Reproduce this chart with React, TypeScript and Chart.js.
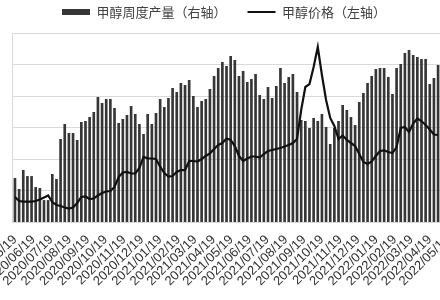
import { useEffect, useRef } from 'react';
import { Chart, registerables } from 'chart.js';

Chart.register(...registerables);

// ---- data ----
const startDate = '2020/05/19'; // first weekly observation
const weekDays = 7;

const productionLabel = '甲醇周度产量（右轴）';
const priceLabel = '甲醇价格（左轴）';

const tickLabels = [
  '2020/05/19', '2020/06/19', '2020/07/19', '2020/08/19', '2020/09/19',
  '2020/10/19', '2020/11/19', '2020/12/19', '2021/01/19', '2021/02/19',
  '2021/03/19', '2021/04/19', '2021/05/19', '2021/06/19', '2021/07/19',
  '2021/08/19', '2021/09/19', '2021/10/19', '2021/11/19', '2021/12/19',
  '2022/01/19', '2022/02/19', '2022/03/19', '2022/04/19', '2022/05/19',
];

// weekly methanol output (right axis)
const production = [
  123.3, 117.5, 127.5, 124.3, 124.3, 118.5, 118.0, 111.6, 111.6, 125.4,
  122.8, 143.9, 151.9, 147.1, 147.1, 143.4, 152.9, 153.4, 155.6, 158.2,
  166.1, 163.0, 165.1, 165.1, 160.3, 152.4, 154.5, 156.6, 161.4, 157.1,
  151.9, 146.6, 157.1, 151.9, 157.7, 165.1, 160.8, 165.6, 170.9, 168.8,
  173.5, 172.5, 175.1, 166.7, 160.8, 164.0, 165.1, 170.4, 177.2, 181.5,
  184.7, 182.5, 187.8, 185.7, 177.2, 179.9, 174.1, 175.7, 178.3, 167.2,
  165.1, 171.4, 165.6, 172.0, 181.5, 173.5, 176.7, 178.3, 168.8, 154.0,
  153.4, 149.7, 155.0, 153.4, 157.1, 150.3, 141.3, 149.7, 153.4, 161.9,
  159.3, 155.6, 151.3, 163.5, 168.3, 173.5, 177.2, 181.0, 181.5, 181.5,
  176.7, 167.7, 181.5, 183.6, 189.4, 191.0, 188.4, 187.3, 186.2, 186.2,
  173.0, 176.2, 183.1,
];

// methanol price (left axis)
const price = [
  1397, 1333, 1325, 1325, 1325, 1333, 1357, 1389, 1421, 1317,
  1270, 1254, 1230, 1214, 1230, 1302, 1397, 1405, 1365, 1373,
  1421, 1460, 1484, 1492, 1556, 1714, 1786, 1794, 1770, 1770,
  1857, 2032, 2011, 2008, 2000, 1878, 1778, 1722, 1730, 1794,
  1825, 1825, 1968, 1968, 1960, 2000, 2048, 2090, 2159, 2222,
  2254, 2325, 2302, 2206, 2048, 1968, 2008, 2040, 2040, 2024,
  2079, 2127, 2143, 2159, 2175, 2198, 2222, 2254, 2317, 2778,
  3143, 3190, 3460, 3778, 3333, 2937, 2651, 2524, 2317, 2373,
  2302, 2254, 2206, 2079, 1952, 1921, 1960, 2048, 2127, 2135,
  2111, 2095, 2190, 2492, 2508, 2429, 2563, 2643, 2603, 2540,
  2468, 2389, 2381,
];

const leftAxis = { min: 1000, max: 4000, step: 500 };
const rightAxis = { min: 100, max: 200 };

function daysFromStart(label: string): number {
  const [y, m, d] = label.split('/').map(Number);
  const [y0, m0, d0] = startDate.split('/').map(Number);
  return Math.round((Date.UTC(y, m - 1, d) - Date.UTC(y0, m0 - 1, d0)) / 86400000);
}

const tickDays = tickLabels.map(daysFromStart);

const cjk = '"Noto Sans CJK SC", "Noto Sans", sans-serif';
const latin = '"Liberation Sans", Arial, sans-serif';

export default function App() {
  const ref = useRef<HTMLCanvasElement | null>(null);

  useEffect(() => {
    const canvas = ref.current;
    if (!canvas) return;
    const chart = new Chart(canvas, {
      type: 'bar',
      data: {
        datasets: [
          {
            type: 'bar',
            label: productionLabel,
            data: production.map((v, i) => ({ x: i * weekDays, y: v })),
            xAxisID: 'x',
            yAxisID: 'y1',
            backgroundColor: '#363636',
            borderWidth: 0,
            barPercentage: 1,
            categoryPercentage: 0.64,
            pointStyle: 'rect',
            order: 2,
          } as any,
          {
            type: 'line',
            label: priceLabel,
            data: price.map((v, i) => ({ x: i * weekDays, y: v })),
            xAxisID: 'x',
            yAxisID: 'y',
            borderColor: '#111111',
            backgroundColor: '#111111',
            borderWidth: 2.2,
            pointRadius: 0,
            pointHoverRadius: 0,
            pointStyle: 'line',
            tension: 0,
            order: 1,
          } as any,
        ],
      },
      options: {
        responsive: false,
        animation: false,
        events: [],
        layout: { padding: { left: 30, right: 10, top: -15.5, bottom: 8 } },
        plugins: {
          legend: {
            position: 'top',
            labels: {
              usePointStyle: true,
              pointStyleWidth: 28,
              boxHeight: 6,
              padding: 21,
              color: '#404040',
              font: { family: cjk, size: 13 },
              sort: (a: any, b: any) => a.datasetIndex - b.datasetIndex,
            },
          },
          tooltip: { enabled: false },
        },
        scales: {
          x: {
            type: 'linear',
            position: 'bottom',
            offset: false,
            min: -5,
            max: 778,
            afterBuildTicks: (s: any) => {
              s.ticks = tickDays.map((v) => ({ value: v }));
            },
            afterFit: (s: any) => {
              s.height = 70;
            },
            grid: { display: false, drawTicks: false },
            border: { display: false },
            ticks: {
              autoSkip: false,
              minRotation: 45,
              maxRotation: 45,
              padding: 10,
              color: '#333333',
              font: { family: latin, size: 13 },
              callback: (_v: any, i: number) => tickLabels[i],
            },
          },
          xTop: {
            type: 'linear',
            position: 'top',
            min: 0,
            max: 1,
            afterFit: (s: any) => {
              s.height = 4.5;
            },
            grid: { display: false, drawTicks: false },
            border: { display: false },
            ticks: { display: false },
          },
          y: {
            type: 'linear',
            position: 'left',
            min: leftAxis.min,
            max: leftAxis.max,
            afterFit: (s: any) => {
              s.width = 40;
            },
            ticks: { display: false, stepSize: leftAxis.step },
            grid: { color: '#d9d9d9', lineWidth: 1, drawTicks: false },
            border: { display: true, color: '#d9d9d9' },
          },
          y1: {
            type: 'linear',
            position: 'right',
            display: false,
            min: rightAxis.min,
            max: rightAxis.max,
            grid: { drawOnChartArea: false },
          },
        },
      } as any,
    });
    return () => chart.destroy();
  }, []);

  return (
    <div
      style={{
        position: 'fixed',
        left: 0,
        top: 0,
        width: 440,
        height: 300,
        overflow: 'hidden',
        background: '#ffffff',
      }}
    >
      <canvas
        ref={ref}
        width={544}
        height={300}
        style={{ position: 'absolute', left: -58, top: 0, width: 544, height: 300 }}
      />
    </div>
  );
}
